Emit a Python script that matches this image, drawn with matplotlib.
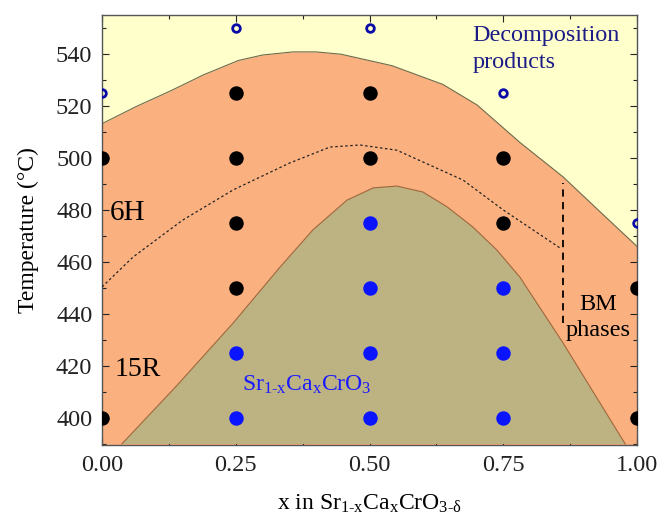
import matplotlib
matplotlib.use("Agg")
import matplotlib.pyplot as plt
from matplotlib.ticker import MultipleLocator

plt.rcParams['font.family'] = ['Liberation Serif', 'DejaVu Serif']
plt.rcParams['mathtext.fontset'] = 'custom'
plt.rcParams['mathtext.rm'] = 'Liberation Serif'
plt.rcParams['mathtext.it'] = 'Liberation Serif:italic'

# phase boundaries (x, T in degC)
upper_x = [0.0, 0.064, 0.128, 0.19, 0.255, 0.30, 0.357, 0.40, 0.447, 0.542, 0.637, 0.701, 0.781, 0.862, 0.93, 1.0]
upper_t = [513.2, 519.8, 525.8, 532.0, 537.5, 539.6, 540.8, 540.8, 539.9, 535.5, 528.3, 520.4, 506.0, 492.7, 479.5, 466.0]

lower_x = [0.037, 0.14, 0.245, 0.333, 0.394, 0.458, 0.507, 0.551, 0.600, 0.645, 0.693, 0.738, 0.781, 0.862, 0.978]
lower_t = [390.0, 412.5, 436.5, 458.1, 472.3, 483.8, 488.5, 489.2, 486.9, 481.2, 473.5, 464.6, 454.2, 428.8, 390.0]

dot_x = [0.0, 0.058, 0.15, 0.245, 0.35, 0.426, 0.482, 0.551, 0.675, 0.75, 0.856]
dot_t = [450.4, 461.9, 476.0, 487.7, 498.0, 504.2, 505.0, 503.0, 491.5, 480.0, 465.4]

bm_x = 0.862
bm_t = [436.5, 490.4]

# measured points
black_x = [0.0, 0.0, 0.25, 0.25, 0.25, 0.25, 0.5, 0.5, 0.75, 0.75, 1.0, 1.0]
black_t = [500, 400, 525, 500, 475, 450, 525, 500, 500, 475, 450, 400]

blue_x = [0.25, 0.25, 0.5, 0.5, 0.5, 0.5, 0.75, 0.75, 0.75]
blue_t = [425, 400, 475, 450, 425, 400, 450, 425, 400]

open_x = [0.0, 0.25, 0.5, 0.75, 1.0]
open_t = [525, 550, 550, 525, 475]

fig = plt.figure(figsize=(6.59, 5.2), dpi=100)
ax = fig.add_axes([0.1548, 0.1442, 0.8118, 0.827])
ax.set_facecolor('#FFFFCC')

ax.fill_between(upper_x, upper_t, 380, color='#FBB07F', lw=0, zorder=1)
ax.plot(upper_x, upper_t, color='#6e6a4c', lw=0.8, zorder=2)
ax.fill(lower_x + [lower_x[0]], lower_t + [lower_t[0]], color='#BDB282', lw=0, zorder=2)
ax.plot(lower_x, lower_t, color='#a0683c', lw=0.8, zorder=3)

ax.plot(dot_x, dot_t, color='#222222', lw=0.9, ls=(0, (2, 2)), zorder=3)
ax.plot([bm_x, bm_x], bm_t, color='black', lw=1.3, ls=(0, (4, 3)), zorder=3)

ax.plot(black_x, black_t, 'o', color='black', ms=9.4, zorder=5)
ax.plot(blue_x, blue_t, 'o', color='#0a14ff', ms=9.4, zorder=5)
ax.plot(open_x, open_t, 'o', mfc='none', mec='#0a0aa8', mew=2.0, ms=5.5, zorder=5)

hy = '\u2010'
ax.text(0.015, 478.8, '6H', fontsize=21, va='center', ha='left', zorder=6)
ax.text(0.024, 418.5, '15R', fontsize=20, va='center', ha='left', zorder=6)
ax.text(0.693, 541.8, 'Decomposition\nproducts', fontsize=17.4, color='#1c1c86',
        va='center', ha='left', linespacing=1.35, zorder=6)
ax.text(0.262, 412.7, r'Sr$_{\mathregular{1' + hy + r'x}}$Ca$_{\mathregular{x}}$CrO$_{\mathregular{3}}$',
        fontsize=17, color='#1a1aff', va='center', ha='left', zorder=6)
ax.text(0.927, 438.6, 'BM\nphases', fontsize=17.5, va='center', ha='center',
        linespacing=1.3, zorder=6)

ax.set_xlim(0, 1.0)
ax.set_ylim(389.6, 555)
ax.set_xticks([0.0, 0.25, 0.5, 0.75, 1.0])
ax.set_xticklabels(['0.00', '0.25', '0.50', '0.75', '1.00'])
ax.xaxis.set_minor_locator(MultipleLocator(0.125))
ax.set_yticks(range(400, 541, 20))
ax.yaxis.set_minor_locator(MultipleLocator(10))
ax.tick_params(which='both', direction='in', top=True, right=True, labelsize=17.5, colors='#222222')
ax.tick_params(which='major', length=5, width=0.8, pad=7)
ax.tick_params(which='minor', length=3, width=0.8)
for s in ax.spines.values():
    s.set_color('#555555')
    s.set_linewidth(1.0)

ax.set_xlabel(r'x in Sr$_{\mathregular{1' + hy + r'x}}$Ca$_{\mathregular{x}}$CrO$_{\mathregular{3' + hy + r'\delta}}$',
              fontsize=17, labelpad=12)
ax.set_ylabel('Temperature (°C)', fontsize=17, labelpad=12)

fig.savefig('out.png', dpi=100)
